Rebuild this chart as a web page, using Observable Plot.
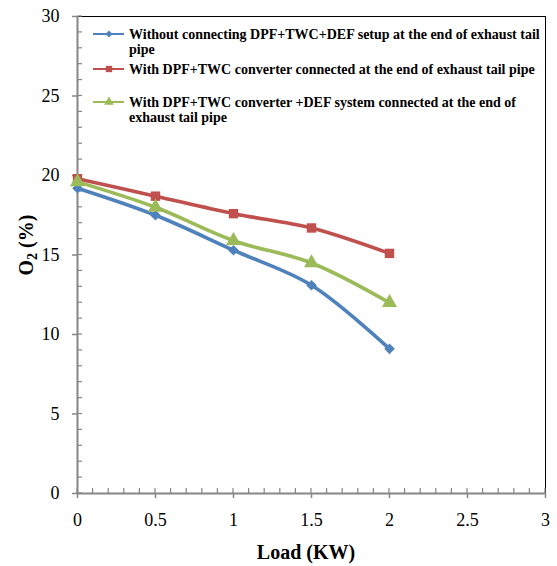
<!DOCTYPE html>
<html>
<head>
<meta charset="utf-8">
<script src="https://cdn.jsdelivr.net/npm/d3@7"></script>
<script src="https://cdn.jsdelivr.net/npm/@observablehq/plot@0.6"></script>
<style>
  html, body { margin: 0; padding: 0; background: #fff; }
  #chart { width: 557px; height: 566px; }
</style>
</head>
<body>
<div id="chart"></div>
<script>
// ---- data ----
const loads = [0, 0.5, 1, 1.5, 2];
const o2Without = [19.2, 17.5, 15.3, 13.1, 9.1];
const o2DpfTwc = [19.8, 18.7, 17.6, 16.7, 15.1];
const o2DpfTwcDef = [19.6, 18.0, 15.9, 14.5, 12.0];
const seriesNames = [
  "Without connecting DPF+TWC+DEF setup at the end of exhaust tail pipe",
  "With DPF+TWC converter connected at the end of exhaust tail pipe",
  "With DPF+TWC converter +DEF system connected at the end of exhaust tail pipe"
];
const legendLines = [
  ["Without connecting DPF+TWC+DEF setup at the end of exhaust tail", "pipe"],
  ["With DPF+TWC converter connected at the end of exhaust tail pipe"],
  ["With DPF+TWC converter +DEF system connected at the end of", "exhaust tail pipe"]
];
const seriesColors = ["#4F81BD", "#C0504D", "#9BBB59"];
const seriesSymbols = ["diamond2", "square", "triangle"];
const seriesR = [4.8, 5.3, 5.6];
const xTicks = [0, 0.5, 1, 1.5, 2, 2.5, 3];
const yTicks = [0, 5, 10, 15, 20, 25, 30];
const xMinor = d3.range(0, 31).map(i => i / 10);
const yMinor = d3.range(0, 31);

const allSeries = [o2Without, o2DpfTwc, o2DpfTwcDef];
const rows = [];
allSeries.forEach((vals, s) => vals.forEach((v, i) => rows.push({series: seriesNames[s], load: loads[i], o2: v, s})));

const axisColor = "#868686";
const fontFam = "'Liberation Serif', 'Times New Roman', serif";

const marks = [
  Plot.ruleY([30], {stroke: "#000", strokeWidth: 1}),
  Plot.ruleX([3], {stroke: "#000", strokeWidth: 1}),
  Plot.axisX({ticks: xTicks, tickSize: 5, tickPadding: 15, stroke: axisColor, strokeWidth: 1.5, fill: "#000", fontSize: 18, tickFormat: d => String(d), label: null}),
  Plot.axisY({ticks: yTicks, tickSize: 5, tickPadding: 13, stroke: axisColor, strokeWidth: 1.5, fill: "#000", fontSize: 18, tickFormat: d => String(d), label: null}),
  Plot.ruleY([0], {stroke: axisColor, strokeWidth: 2}),
  Plot.ruleX([0], {stroke: axisColor, strokeWidth: 2})
];
allSeries.forEach((vals, s) => {
  const d = rows.filter(r => r.s === s);
  marks.push(Plot.line(d, {x: "load", y: "o2", stroke: seriesColors[s], strokeWidth: 3.6, curve: "catmull-rom"}));
});
allSeries.forEach((vals, s) => {
  const d = rows.filter(r => r.s === s);
  marks.push(Plot.dot(d, {x: "load", y: "o2", fill: seriesColors[s], stroke: "none", symbol: seriesSymbols[s], r: seriesR[s]}));
});

const chart = Plot.plot({
  width: 557,
  height: 566,
  marginLeft: 77,
  marginRight: 12,
  marginTop: 16,
  marginBottom: 73,
  style: {fontFamily: fontFam, background: "#fff", color: "#000"},
  x: {domain: [0, 3], label: null},
  y: {domain: [0, 30], label: null},
  marks
});
document.getElementById("chart").appendChild(chart);

const svg = d3.select(chart);
const xs = chart.scale("x"), ys = chart.scale("y");

// inward minor ticks (from the plot's own scales)
const mt = svg.append("g").attr("stroke", axisColor).attr("stroke-width", 1.2);
xMinor.forEach(v => {
  const px = xs.apply(v), py = ys.apply(0);
  mt.append("line").attr("x1", px).attr("x2", px).attr("y1", py).attr("y2", py - 5);
});
yMinor.forEach(v => {
  const px = xs.apply(0), py = ys.apply(v);
  mt.append("line").attr("x1", px).attr("x2", px + 5).attr("y1", py).attr("y2", py);
});
svg.selectAll("g[aria-label='line'], g[aria-label='dot']").raise();

// axis titles
svg.append("text")
  .attr("x", 306).attr("y", 559)
  .attr("text-anchor", "middle")
  .attr("font-family", fontFam).attr("font-weight", "bold").attr("font-size", 20)
  .text("Load (KW)");

const yl = svg.append("text")
  .attr("transform", "translate(33,245) rotate(-90)")
  .attr("text-anchor", "middle")
  .attr("font-family", fontFam).attr("font-weight", "bold").attr("font-size", 20);
yl.append("tspan").text("O");
yl.append("tspan").attr("dy", 4).attr("font-size", 14).text("2");
yl.append("tspan").attr("dy", -4).text(" (%)");

// legend
const legY = [34, 69, 102];
const lg = svg.append("g");
seriesNames.forEach((name, s) => {
  const y = legY[s];
  lg.append("line").attr("x1", 93).attr("x2", 124).attr("y1", y).attr("y2", y)
    .attr("stroke", seriesColors[s]).attr("stroke-width", 2);
  const sym = {diamond2: d3.symbolDiamond2, square: d3.symbolSquare, triangle: d3.symbolTriangle}[seriesSymbols[s]];
  lg.append("path").attr("transform", `translate(109,${y})`)
    .attr("d", d3.symbol(sym, s === 0 ? 32 : 40)()).attr("fill", seriesColors[s]);
  legendLines[s].forEach((ln, k) => {
    lg.append("text").attr("x", 129).attr("y", y + 5 + k * 15)
      .attr("text-anchor", "start")
      .attr("font-family", fontFam).attr("font-weight", "bold").attr("font-size", 14)
      .text(ln);
  });
});
</script>
</body>
</html>
